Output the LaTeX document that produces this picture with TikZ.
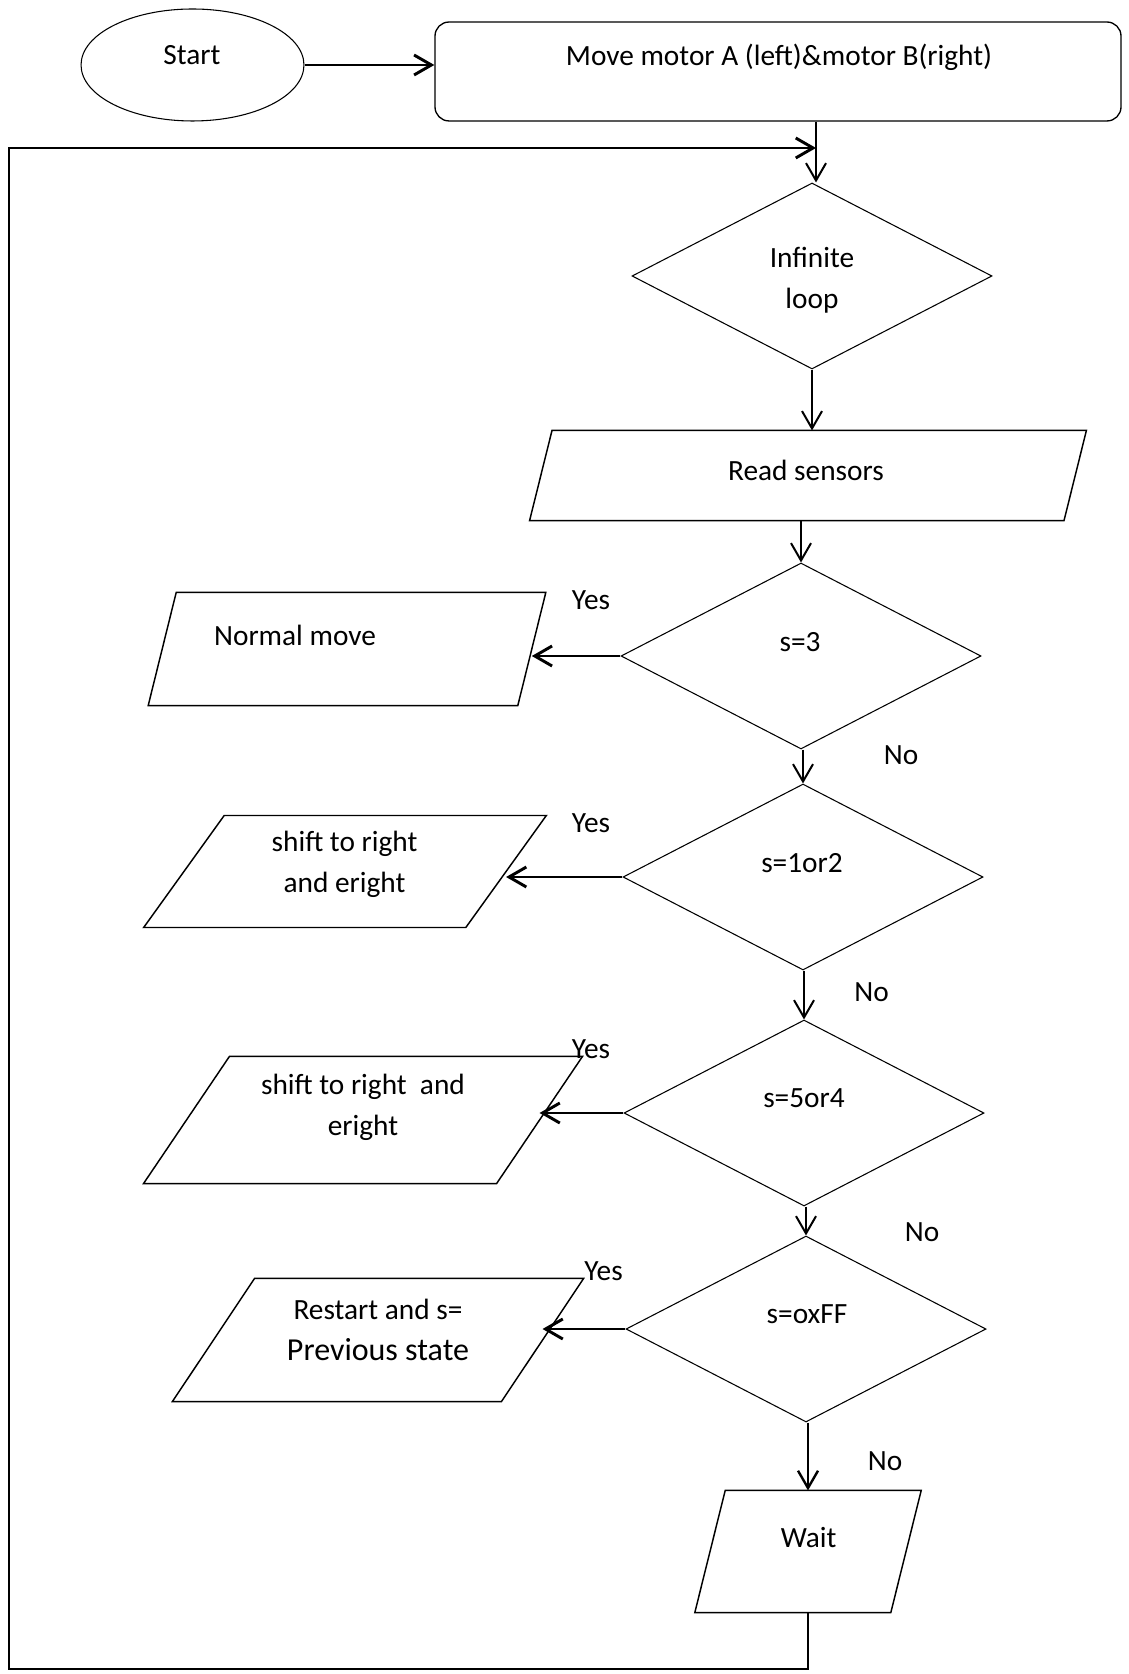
\documentclass[tikz,border=0pt]{standalone}
\usepackage{fontspec}
\setmainfont{Carlito}
\usetikzlibrary{arrows.meta,shapes.geometric}

\begin{document}
\begin{tikzpicture}[x=0.375pt, y=-0.375pt, >={Straight Barb[length=6.5pt,width=7.5pt]},
    every node/.style={font=\fontsize{11pt}{15.5pt}\selectfont},
    txt/.style={inner sep=0pt, align=center},
    decision/.style={diamond, draw, line width=0.4pt, inner sep=0pt,
      minimum width=135pt, minimum height=69.75pt},
    iobox/.style={inner sep=0pt, append after command={\pgfextra{
      \draw[line width=0.55pt] ([xshift=-#1]\tikzlastnode.south west)
        -- ([xshift=-#1]\tikzlastnode.south east) -- ([xshift=#1]\tikzlastnode.north east)
        -- ([xshift=#1]\tikzlastnode.north west) -- cycle;}}},
    flow/.style={->, line width=0.75pt},
    branch/.style={->, line width=1.1pt}]
  \useasboundingbox (0,0) rectangle (1128,1674);

  \node[ellipse, draw, line width=0.4pt, inner sep=0pt, minimum width=83.6pt,
    minimum height=42pt] (start) at (192.5,65) {};
  \node[txt] (start-t) at (192,55) {Start};
  \node[draw, line width=0.5pt, rounded corners=5.25pt, minimum width=257.25pt,
    minimum height=37.1pt] (motors) at (778,71.5) {};
  \node[txt] (motors-t) at (779,57) {Move motor A (left)\&motor B(right)};

  \node[decision] (loop) at (812,276) {};
  \node[txt] (loop-t) at (812,280) {Infinite\\loop};
  \node[iobox=4.2pt, minimum width=200pt, minimum height=33.4pt] (read) at (808,475.5) {};
  \node[txt] (read-t) at (806,470) {Read sensors};

  \node[decision] (s3) at (801,656) {};
  \node[txt] (s3-t) at (800,642) {s=3};
  \node[iobox=5.25pt, minimum width=138.2pt, minimum height=42pt] (norm) at (347,649) {};
  \node[txt] (norm-t) at (295,635) {Normal move};

  \node[decision] (s12) at (803,877) {};
  \node[txt] (s12-t) at (802,863) {s=1or2};
  \node[iobox=15.1pt, minimum width=120.4pt, minimum height=41.6pt] (shift1) at (345,871.5) {};
  \node[txt] (shift1-t) at (344.5,864) {shift to right\\and eright};

  \node[decision] (s54) at (804,1113) {};
  \node[txt] (s54-t) at (804,1098) {s=5or4};
  \node[iobox=16.1pt, minimum width=132pt, minimum height=47.25pt] (shift2) at (363,1120) {};
  \node[txt] (shift2-t) at (363,1107.5) {shift to right~ and\\eright};

  \node[decision] (sff) at (806,1329) {};
  \node[txt] (sff-t) at (807,1314) {s=oxFF};
  \node[iobox=15.4pt, minimum width=123pt, minimum height=45.75pt] (restart) at (378,1340) {};
  \node[txt] (restart-t) at (378,1330) {Restart and s=\\{\fontsize{12pt}{15pt}\selectfont Previous state}};

  \node[iobox=5.7pt, minimum width=73.1pt, minimum height=45.4pt] (wait) at (808,1551.5) {};
  \node[txt] (wait-t) at (808.6,1537) {Wait};

  \node[txt] (yes1) at (591,600) {Yes};
  \node[txt] (yes2) at (591,823) {Yes};
  \node[txt] (yes3) at (591,1049) {Yes};
  \node[txt] (yes4) at (603.6,1271) {Yes};
  \node[txt] (no1) at (901,755) {No};
  \node[txt] (no2) at (871.5,992) {No};
  \node[txt] (no3) at (922,1232) {No};
  \node[txt] (no4) at (885,1461) {No};

  \coordinate (back) at (816,148);
  \coordinate (corner) at (9,1669);

  \draw[branch] (start.east) -- (start.east -| motors.west);
  \draw[flow] (motors.south -| back) -- (back |- loop.north);
  \draw[branch] (wait.south) |- (corner) |- (back);
  \draw[flow] (loop.south) -- (loop.south |- read.north);
  \draw[flow] (read.south -| s3.north) -- (s3.north);
  \draw[branch] (s3.west) -- (s3.west -| norm.east);
  \draw[flow] (s3.south -| s12.north) -- (s12.north);
  \draw[branch] (s12.west) -- (s12.west -| shift1.east);
  \draw[flow] (s12.south -| s54.north) -- (s54.north);
  \draw[branch] (s54.west) -- (s54.west -| shift2.east);
  \draw[flow] (s54.south -| sff.north) -- (sff.north);
  \draw[branch] (sff.west) -- (sff.west -| restart.east);
  \draw[flow, line width=0.9pt] (sff.south -| wait.north) -- (wait.north);
\end{tikzpicture}
\end{document}
